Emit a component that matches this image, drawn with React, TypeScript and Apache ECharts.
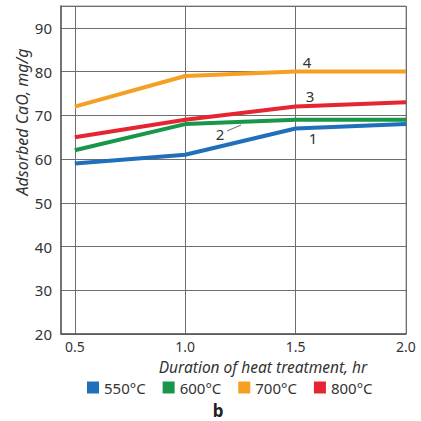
import React, { useEffect, useRef } from "react";
import * as echarts from "echarts";

const hours = [0.5, 1.0, 1.5, 2.0];
const s550 = [59, 61, 67, 68];
const s600 = [62, 68, 69, 69];
const s700 = [72, 79, 80, 80];
const s800 = [65, 69, 72, 73];
const seriesNames = ["550°C", "600°C", "700°C", "800°C"];
const seriesColors = ["#1f6fba", "#18964a", "#f59f23", "#e62532"];
const xTicks = [0.5, 1.0, 1.5, 2.0];
const curveLabels = ["1", "2", "3", "4"];

const FONT = "Noto Sans";

export default function App() {
  const ref = useRef<HTMLDivElement>(null);
  useEffect(() => {
    document.body.style.margin = "0";
    const chart = echarts.init(ref.current!, null, { renderer: "svg" });
    const all = [s550, s600, s700, s800];
    chart.setOption({
      animation: false,
      backgroundColor: "#ffffff",
      textStyle: { fontFamily: FONT },
      grid: {
        left: 61,
        right: 15,
        top: 6,
        bottom: 87,
        show: true,
        borderColor: "#9a9a9a",
        borderWidth: 1,
      },
      xAxis: {
        type: "value",
        min: 0.4375,
        max: 2.0,
        axisLine: { show: true, lineStyle: { color: "#555", width: 1.5 } },
        axisTick: { show: false, customValues: xTicks },
        axisLabel: {
          customValues: xTicks,
          formatter: (v: number) => v.toFixed(1),
          color: "#333",
          fontSize: 14,
          margin: 5,
          fontFamily: FONT,
        },
        splitLine: { show: true, lineStyle: { color: "#6e6e6e", width: 1 } },
      },
      yAxis: {
        type: "value",
        min: 20,
        max: 95,
        interval: 10,
        axisLine: { show: true, lineStyle: { color: "#555", width: 1.5 } },
        axisTick: { show: false },
        axisLabel: { color: "#333", fontSize: 15, margin: 9, fontFamily: FONT, showMaxLabel: false },
        splitLine: { show: true, lineStyle: { color: "#6e6e6e", width: 1 } },
      },
      legend: {
        top: 380,
        left: 87,
        padding: 0,
        itemWidth: 12,
        itemHeight: 12,
        itemGap: 17,
        icon: "rect",
        textStyle: { color: "#333", fontSize: 15, fontFamily: FONT },
        data: seriesNames,
      },
      series: all.map((d, i) => ({
        name: seriesNames[i],
        type: "line",
        data: hours.map((h, j) => [h, d[j]]),
        showSymbol: false,
        symbol: "none",
        lineStyle: { color: seriesColors[i], width: 4 },
        itemStyle: { color: seriesColors[i] },
      })),
      graphic: [
        {
          type: "text",
          x: 22,
          y: 122,
          rotation: Math.PI / 2,
          style: {
            text: "Adsorbed CaO, mg/g",
            fontSize: 16,
            fontStyle: "italic",
            fontFamily: FONT,
            fill: "#333",
            align: "center",
            verticalAlign: "middle",
          },
        },
        {
          type: "text",
          x: 263,
          y: 367,
          style: {
            text: "Duration of heat treatment, hr",
            fontSize: 15.5,
            fontStyle: "italic",
            fontFamily: FONT,
            fill: "#333",
            align: "center",
            verticalAlign: "middle",
          },
        },
        {
          type: "text",
          x: 218,
          y: 410,
          style: {
            text: "b",
            fontSize: 17,
            fontWeight: "bold",
            fontFamily: FONT,
            fill: "#222",
            align: "center",
            verticalAlign: "middle",
          },
        },
        { type: "text", x: 313, y: 138, style: { text: curveLabels[0], fontSize: 15, fontFamily: FONT, fill: "#333", align: "center", verticalAlign: "middle" } },
        { type: "text", x: 220, y: 134, style: { text: curveLabels[1], fontSize: 15, fontFamily: FONT, fill: "#333", align: "center", verticalAlign: "middle" } },
        { type: "text", x: 310, y: 96, style: { text: curveLabels[2], fontSize: 15, fontFamily: FONT, fill: "#333", align: "center", verticalAlign: "middle" } },
        { type: "text", x: 307, y: 62, style: { text: curveLabels[3], fontSize: 15, fontFamily: FONT, fill: "#333", align: "center", verticalAlign: "middle" } },
        {
          type: "line",
          shape: { x1: 227, y1: 131, x2: 241, y2: 125 },
          style: { stroke: "#444", lineWidth: 0.8 },
        },
      ],
    });
    return () => chart.dispose();
  }, []);
  return <div ref={ref} style={{ width: 421, height: 421 }} />;
}
